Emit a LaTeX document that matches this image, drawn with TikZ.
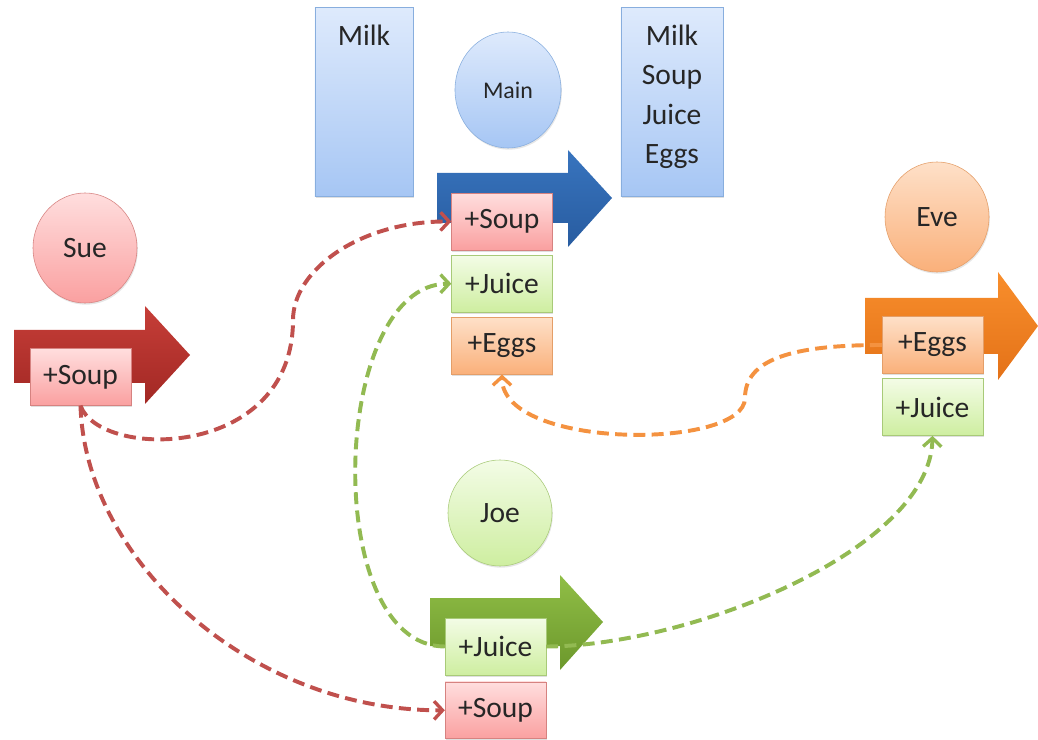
\documentclass[tikz,border=0pt]{standalone}
\usepackage{fontspec}
\setmainfont{Carlito}
\usepackage{tikz}
\usetikzlibrary{shapes.geometric,arrows.meta,shadows,positioning}

\definecolor{redtop}{RGB}{255,222,222}
\definecolor{redbot}{RGB}{250,160,160}
\definecolor{redline}{RGB}{214,130,128}
\definecolor{greentop}{RGB}{243,252,230}
\definecolor{greenbot}{RGB}{206,238,160}
\definecolor{greenline}{RGB}{168,202,120}
\definecolor{orangetop}{RGB}{254,224,200}
\definecolor{orangebot}{RGB}{250,176,122}
\definecolor{orangeline}{RGB}{228,158,104}
\definecolor{bluetop}{RGB}{222,234,252}
\definecolor{bluebot}{RGB}{166,198,244}
\definecolor{blueline}{RGB}{136,174,222}
\definecolor{redflow}{RGB}{192,80,77}
\definecolor{greenflow}{RGB}{146,186,82}
\definecolor{orangeflow}{RGB}{244,146,64}

\tikzset{
  item/.style={rectangle, draw=#1line, top color=#1top, bottom color=#1bot,
    minimum width=2.52cm, minimum height=1.42cm, inner sep=0pt, text=black!85,
    font=\fontsize{21}{25}\selectfont,
    drop shadow={opacity=0.25,shadow xshift=0.6pt,shadow yshift=-1.2pt}},
  person/.style={ellipse, draw=#1line, top color=#1top, bottom color=#1bot,
    minimum width=2.6cm, minimum height=2.75cm, inner sep=0pt, text=black!85,
    font=\fontsize{21}{25}\selectfont,
    drop shadow={opacity=0.2,shadow xshift=0.6pt,shadow yshift=-1.2pt}},
  store/.style={rectangle, draw=blueline, top color=bluetop, bottom color=bluebot,
    minimum width=2.5cm, minimum height=4.72cm, inner sep=0pt, text=black!85,
    font=\fontsize{21}{28}\selectfont,
    drop shadow={opacity=0.25,shadow xshift=0.6pt,shadow yshift=-1.2pt}},
  flow/.style={line width=2.8pt, dash pattern=on 8.5pt off 4.5pt,
    -{Straight Barb[length=6pt,width=13pt,line width=2.4pt]}}
}

\begin{document}
\begin{tikzpicture}[x=0.025cm,y=-0.025cm]
\useasboundingbox (0,0) rectangle (1038,740);

% big arrows
\shade[top color={rgb,255:red,198;green,62;blue,56},bottom color={rgb,255:red,162;green,40;blue,36}] (14,330) -- (145,330) -- (145,306) -- (190,355) -- (145,404) -- (145,383) -- (14,383) -- cycle;
\shade[top color={rgb,255:red,56;green,116;blue,190},bottom color={rgb,255:red,40;green,92;blue,160}] (437,173) -- (568,173) -- (568,150) -- (612,198) -- (568,247) -- (568,223) -- (437,223) -- cycle;
\shade[top color={rgb,255:red,248;green,142;blue,44},bottom color={rgb,255:red,228;green,114;blue,24}] (865,298) -- (998,298) -- (998,272) -- (1038,326) -- (998,380) -- (998,354) -- (865,354) -- cycle;
\shade[top color={rgb,255:red,144;green,190;blue,70},bottom color={rgb,255:red,108;green,152;blue,44}] (430,598) -- (560,598) -- (560,575) -- (603,622) -- (560,670) -- (560,646) -- (430,646) -- cycle;

% people
\node[person=red] (sue) at (85,248) {Sue};
\node[person=blue, minimum width=2.65cm, minimum height=2.9cm, font=\fontsize{17}{20}\selectfont] (main) at (508,90) {Main};
\node[person=orange] (eve) at (937,217) {Eve};
\node[person=green, minimum height=2.65cm] (joe) at (500,513) {Joe};

% stock
\node[store, minimum width=2.45cm, label={[anchor=north,yshift=-0.32cm,font=\fontsize{21}{28}\selectfont,text=black!85]north:Milk}] (before) at (364,102) {};
\node[store, minimum width=2.55cm, label={[anchor=north,yshift=-0.32cm,align=center,font=\fontsize{21}{28}\selectfont,text=black!85]north:Milk\\Soup\\Juice\\Eggs}] (after) at (672,102) {};

% changes
\node[item=red] (sueSoup) at (80.5,377) {+Soup};
\node[item=red] (mainSoup) at (502,221.5) {+Soup};
\node[item=green, below=0.12cm of mainSoup] (mainJuice) {+Juice};
\node[item=orange, below=0.12cm of mainJuice] (mainEggs) {+Eggs};
\node[item=orange] (eveEggs) at (932.5,345) {+Eggs};
\node[item=green, below=0.12cm of eveEggs] (eveJuice) {+Juice};
\node[item=green] (joeJuice) at (495.5,646.5) {+Juice};
\node[item=red, below=0.16cm of joeJuice] (joeSoup) {+Soup};

% merges
\draw[flow, redflow] (sueSoup.south) .. controls (100,460) and (293,460) .. (293,320) .. controls (293,270) and (360,221) .. (mainSoup.west);
\draw[flow, redflow] (sueSoup.south) .. controls (85,560) and (250,711) .. (joeSoup.west);
\draw[flow, greenflow] (joeJuice.west) .. controls (320,646) and (330,284) .. (mainJuice.west);
\draw[flow, greenflow] (joeJuice.east) .. controls (690,646) and (930,550) .. (eveJuice.south);
\draw[flow, orangeflow] (eveEggs.west) .. controls (790,345) and (745,360) .. (745,398) .. controls (745,450) and (502,450) .. (mainEggs.south);
\end{tikzpicture}
\end{document}
